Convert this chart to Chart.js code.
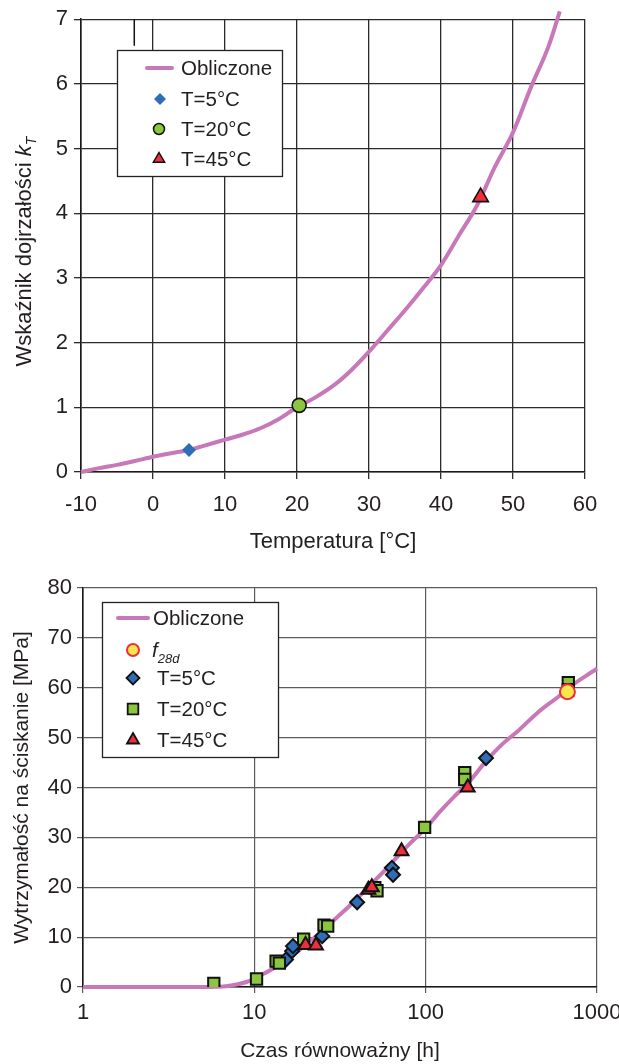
<!DOCTYPE html>
<html lang="pl">
<head>
<meta charset="utf-8">
<title>Wskaźnik dojrzałości i wytrzymałość na ściskanie</title>
<script src="https://cdn.jsdelivr.net/npm/chart.js@4.4.1/dist/chart.umd.min.js"></script>
<style>
  html, body { margin: 0; padding: 0; background: #fff; }
  canvas { display: block; }
</style>
</head>
<body>
<canvas id="kTChart" width="619" height="555"></canvas>
<canvas id="strengthChart" width="619" height="509"></canvas>
<script>
// ---- Wykres 1: wskaźnik dojrzałości k_T w funkcji temperatury ----
const tempCurve = [-10, -7.5, -5, -2.5, 0, 2.5, 5, 7.5, 10, 12.5, 15, 17.5, 20, 22.5, 25, 27.5, 30, 32.5, 35, 37.5, 40, 42.5, 45, 47.5, 50, 52.5, 55, 56.5];
const kTCurve = [0, 0.06, 0.11, 0.17, 0.235, 0.29, 0.34, 0.42, 0.5, 0.58, 0.68, 0.82, 1.0, 1.15, 1.33, 1.57, 1.86, 2.18, 2.5, 2.84, 3.2, 3.66, 4.12, 4.72, 5.25, 5.95, 6.6, 7.12];
const tempT5 = [5];
const kT5 = [0.34];
const tempT20 = [20.3];
const kT20 = [1.03];
const tempT45 = [45.5];
const kT45 = [4.25];
// krótka pionowa kreska przy górnej krawędzi (jest na oryginale)
const stubTemp = [-2.6, -2.6];
const stubK = [7, 6.59];
const tempTicks = [-10, 0, 10, 20, 30, 40, 50, 60];

// ---- Wykres 2: wytrzymałość w funkcji czasu równoważnego ----
const hoursCurve = [1, 3, 5, 6, 7, 8, 9, 10, 11, 12, 14, 16, 18, 20, 25, 30, 35, 40, 50, 60, 70, 80, 100, 120, 150, 180, 225, 280, 350, 450, 600, 750, 900, 1000, 1120];
const strengthCurve = [0, 0, 0, 0.05, 0.2, 0.55, 1.0, 1.6, 2.4, 3.1, 4.5, 5.9, 7.2, 8.5, 11.3, 13.8, 15.9, 17.8, 21.2, 24.0, 26.5, 28.6, 31.8, 35.0, 38.5, 41.2, 45.3, 48.7, 51.5, 55.0, 58.3, 61.0, 62.8, 63.8, 64.9];
const hoursF28d = [672];
const strengthF28d = [59.2];
const hoursT5 = [15.3, 16.6, 16.8, 24.9, 39.8, 63.5, 64.5, 225];
const strengthT5 = [5.5, 7.2, 8.2, 10.2, 17.0, 23.9, 22.5, 45.9];
const hoursT20 = [5.8, 10.3, 13.4, 14.0, 19.4, 25.5, 26.8, 50.5, 52, 98.6, 169, 169, 680, 680];
const strengthT20 = [0.7, 1.6, 5.2, 4.8, 9.6, 12.4, 12.2, 19.9, 19.3, 32.0, 43.0, 41.6, 61.0, 59.6];
const hoursT45 = [19.9, 22.9, 46.3, 48.5, 72.3, 176];
const strengthT45 = [8.4, 8.3, 19.5, 20.0, 27.2, 40.0];
const hourTicks = [1, 10, 100, 1000];

const FONT = "'Liberation Sans', Arial, sans-serif";
const PINK = '#c878b8';
const BLUE = '#2f6db6';
const GREEN = '#8cc63e';
const RED = '#ee2e3b';
const YELLOW = '#f7e64c';
const TEXT = '#231f20';

function pts(xs, ys) {
    return xs.map((x, i) => ({ x: x, y: ys[i] }));
}

/**
 * Rysuje znacznik legendy (własny, bo legenda jest wewnątrz pola wykresu).
 */
function drawMarker(ctx, m) {
    const { x, y, r } = m;
    ctx.beginPath();
    if (m.shape === 'circle') {
        ctx.arc(x, y, r, 0, Math.PI * 2);
    } else if (m.shape === 'rectRot') {
        ctx.moveTo(x, y - r);
        ctx.lineTo(x + r, y);
        ctx.lineTo(x, y + r);
        ctx.lineTo(x - r, y);
        ctx.closePath();
    } else if (m.shape === 'rect') {
        const s = r * Math.SQRT1_2;
        ctx.rect(x - s, y - s, 2 * s, 2 * s);
    } else if (m.shape === 'triangle') {
        ctx.moveTo(x, y - r);
        ctx.lineTo(x + r * 0.866, y + r * 0.5);
        ctx.lineTo(x - r * 0.866, y + r * 0.5);
        ctx.closePath();
    }
    ctx.fillStyle = m.fill;
    ctx.fill();
    if (m.stroke) {
        ctx.lineWidth = m.lw || 1.5;
        ctx.strokeStyle = m.stroke;
        ctx.stroke();
    }
}

// Tekst z indeksem dolnym: [ {t, italic, sub} ]
function drawRich(ctx, parts, x, baseline, size) {
    let cx = x;
    parts.forEach(p => {
        const fs = p.sub ? Math.round(size * 0.65) : size;
        ctx.font = (p.italic ? 'italic ' : '') + fs + 'px ' + FONT;
        ctx.fillText(p.t, cx, baseline + (p.sub ? size * 0.25 : 0));
        cx += ctx.measureText(p.t).width;
    });
    return cx - x;
}

function measureRich(ctx, parts, size) {
    let w = 0;
    parts.forEach(p => {
        const fs = p.sub ? Math.round(size * 0.65) : size;
        ctx.font = (p.italic ? 'italic ' : '') + fs + 'px ' + FONT;
        w += ctx.measureText(p.t).width;
    });
    return w;
}

const insideLegend = {
    id: 'insideLegend',
    afterDatasetsDraw(chart, args, opts) {
        const ctx = chart.ctx;
        const b = opts.box;
        ctx.save();
        ctx.fillStyle = '#fff';
        ctx.fillRect(b.x, b.y, b.w, b.h);
        ctx.lineWidth = 1.3;
        ctx.strokeStyle = '#222';
        ctx.strokeRect(b.x + 0.5, b.y + 0.5, b.w, b.h);

        opts.items.forEach(it => {
            if (it.line) {
                ctx.beginPath();
                ctx.moveTo(it.line[0], it.y);
                ctx.lineTo(it.line[1], it.y);
                ctx.lineWidth = 4;
                ctx.lineCap = 'round';
                ctx.strokeStyle = PINK;
                ctx.stroke();
            } else {
                drawMarker(ctx, Object.assign({ y: it.y }, it.marker));
            }
            ctx.fillStyle = TEXT;
            ctx.textBaseline = 'alphabetic';
            ctx.textAlign = 'left';
            drawRich(ctx, it.text, it.tx, it.y + opts.fontSize * 0.36, opts.fontSize);
        });
        ctx.restore();
    }
};

const richYTitle = {
    id: 'richYTitle',
    afterDraw(chart, args, opts) {
        const ctx = chart.ctx;
        const area = chart.chartArea;
        ctx.save();
        ctx.fillStyle = TEXT;
        ctx.textAlign = 'left';
        ctx.textBaseline = 'alphabetic';
        const w = measureRich(ctx, opts.parts, opts.size);
        ctx.translate(opts.x, (area.top + area.bottom) / 2 + opts.shift);
        ctx.rotate(-Math.PI / 2);
        drawRich(ctx, opts.parts, -w / 2, opts.size * 0.36, opts.size);
        ctx.restore();
    }
};

Chart.defaults.font.family = FONT;
Chart.defaults.color = TEXT;

// ---------- Wykres 1 ----------
new Chart(document.getElementById('kTChart'), {
    type: 'scatter',
    data: {
        datasets: [{
            label: 'T=5°C',
            data: pts(tempT5, kT5),
            pointStyle: 'rectRot',
            pointRadius: 7,
            backgroundColor: BLUE,
            borderWidth: 0
        }, {
            label: 'T=20°C',
            data: pts(tempT20, kT20),
            pointStyle: 'circle',
            pointRadius: 7,
            backgroundColor: GREEN,
            borderColor: '#111',
            borderWidth: 1.6
        }, {
            label: 'T=45°C',
            data: pts(tempT45, kT45),
            pointStyle: 'triangle',
            pointRadius: 9,
            backgroundColor: RED,
            borderColor: '#111',
            borderWidth: 1.6
        }, {
            label: 'stub',
            data: pts(stubTemp, stubK),
            showLine: true,
            pointRadius: 0,
            borderColor: '#111',
            borderWidth: 1.5,
            clip: false
        }, {
            label: 'Obliczone',
            data: pts(tempCurve, kTCurve),
            showLine: true,
            pointRadius: 0,
            borderColor: PINK,
            borderWidth: 4,
            cubicInterpolationMode: 'monotone',
            clip: false
        }]
    },
    options: {
        responsive: false,
        animation: false,
        events: [],
        layout: { padding: { top: 16, right: 34, bottom: 0, left: 0 } },
        scales: {
            x: {
                type: 'linear',
                min: -10,
                max: 60,
                afterBuildTicks: s => { s.ticks = tempTicks.map(v => ({ value: v })); },
                afterFit: s => { s.height = 83; s.paddingLeft = 0; s.paddingRight = 0; },
                ticks: { font: { size: 22 }, color: TEXT, padding: 13, maxRotation: 0 },
                grid: { color: '#2b2b2b', lineWidth: 1.3, tickLength: 7 },
                border: { color: '#1a1a1a', width: 1.6 },
                title: { display: true, text: 'Temperatura [°C]', font: { size: 22 }, color: TEXT, padding: { top: 0, bottom: 0 } }
            },
            y: {
                min: 0,
                max: 7,
                afterFit: s => { s.width = 81; },
                ticks: { stepSize: 1, font: { size: 22 }, color: TEXT, padding: 6 },
                grid: { color: '#2b2b2b', lineWidth: 1.3, tickLength: 7 },
                border: { color: '#1a1a1a', width: 1.6 }
            }
        },
        plugins: {
            legend: { display: false },
            tooltip: { enabled: false },
            insideLegend: {
                fontSize: 20.5,
                box: { x: 117, y: 50, w: 165, h: 126 },
                items: [
                    { y: 68, line: [147, 172], tx: 181, text: [{ t: 'Obliczone' }] },
                    { y: 99, marker: { x: 160, shape: 'rectRot', r: 6, fill: BLUE }, tx: 181, text: [{ t: 'T=5°C' }] },
                    { y: 129, marker: { x: 159, shape: 'circle', r: 5.5, fill: GREEN, stroke: '#111', lw: 1.5 }, tx: 181, text: [{ t: 'T=20°C' }] },
                    { y: 159, marker: { x: 159, shape: 'triangle', r: 6.5, fill: RED, stroke: '#111', lw: 1.5 }, tx: 181, text: [{ t: 'T=45°C' }] }
                ]
            },
            richYTitle: {
                x: 23,
                shift: 6,
                size: 22,
                parts: [{ t: 'Wskaźnik dojrzałości ' }, { t: 'k', italic: true }, { t: 'T', italic: true, sub: true }]
            }
        }
    },
    plugins: [insideLegend, richYTitle]
});

// ---------- Wykres 2 ----------
new Chart(document.getElementById('strengthChart'), {
    type: 'scatter',
    data: {
        datasets: [{
            label: 'f28d',
            data: pts(hoursF28d, strengthF28d),
            pointStyle: 'circle',
            pointRadius: 7.5,
            backgroundColor: YELLOW,
            borderColor: RED,
            borderWidth: 2
        }, {
            label: 'T=45°C',
            data: pts(hoursT45, strengthT45),
            pointStyle: 'triangle',
            pointRadius: 8,
            backgroundColor: RED,
            borderColor: '#111',
            borderWidth: 2
        }, {
            label: 'T=20°C',
            data: pts(hoursT20, strengthT20),
            pointStyle: 'rect',
            pointRadius: 8,
            backgroundColor: GREEN,
            borderColor: '#111',
            borderWidth: 2
        }, {
            label: 'T=5°C',
            data: pts(hoursT5, strengthT5),
            pointStyle: 'rectRot',
            pointRadius: 7,
            backgroundColor: BLUE,
            borderColor: '#111',
            borderWidth: 2
        }, {
            label: 'Obliczone',
            data: pts(hoursCurve, strengthCurve),
            showLine: true,
            pointRadius: 0,
            borderColor: PINK,
            borderWidth: 4,
            cubicInterpolationMode: 'monotone',
            clip: false
        }]
    },
    options: {
        responsive: false,
        animation: false,
        events: [],
        layout: { padding: { top: 33, right: 22, bottom: 0, left: 0 } },
        scales: {
            x: {
                type: 'logarithmic',
                min: 1,
                max: 1000,
                afterBuildTicks: s => { s.ticks = hourTicks.map(v => ({ value: v })); },
                afterFit: s => { s.height = 77; s.paddingLeft = 0; s.paddingRight = 0; },
                ticks: { font: { size: 22 }, color: TEXT, padding: 7, maxRotation: 0, callback: v => String(v) },
                grid: { color: '#5c5c5c', lineWidth: 1.2, tickLength: 6 },
                border: { color: '#1a1a1a', width: 1.6 },
                title: { display: true, text: 'Czas równoważny [h]', font: { size: 21 }, color: TEXT, padding: { top: 0, bottom: 0 } }
            },
            y: {
                min: 0,
                max: 80,
                afterFit: s => { s.width = 83; },
                ticks: { stepSize: 10, font: { size: 22 }, color: TEXT, padding: 5 },
                grid: { color: '#5c5c5c', lineWidth: 1.2, tickLength: 6 },
                border: { color: '#1a1a1a', width: 1.6 },
                title: { display: true, text: 'Wytrzymałość na ściskanie [MPa]', font: { size: 21 }, color: TEXT, padding: { top: 10, bottom: 0 } }
            }
        },
        plugins: {
            legend: { display: false },
            tooltip: { enabled: false },
            insideLegend: {
                fontSize: 20.5,
                box: { x: 102, y: 47, w: 176, h: 155 },
                items: [
                    { y: 63, line: [118, 148], tx: 153, text: [{ t: 'Obliczone' }] },
                    { y: 95, marker: { x: 133, shape: 'circle', r: 6, fill: YELLOW, stroke: RED, lw: 2 }, tx: 152, text: [{ t: 'f', italic: true }, { t: '28d', italic: true, sub: true }] },
                    { y: 123, marker: { x: 133, shape: 'rectRot', r: 6.5, fill: BLUE, stroke: '#111', lw: 1.8 }, tx: 157, text: [{ t: 'T=5°C' }] },
                    { y: 154, marker: { x: 133, shape: 'rect', r: 7.5, fill: GREEN, stroke: '#111', lw: 1.8 }, tx: 157, text: [{ t: 'T=20°C' }] },
                    { y: 185, marker: { x: 133, shape: 'triangle', r: 7, fill: RED, stroke: '#111', lw: 1.8 }, tx: 157, text: [{ t: 'T=45°C' }] }
                ]
            }
        }
    },
    plugins: [insideLegend]
});
</script>
</body>
</html>
